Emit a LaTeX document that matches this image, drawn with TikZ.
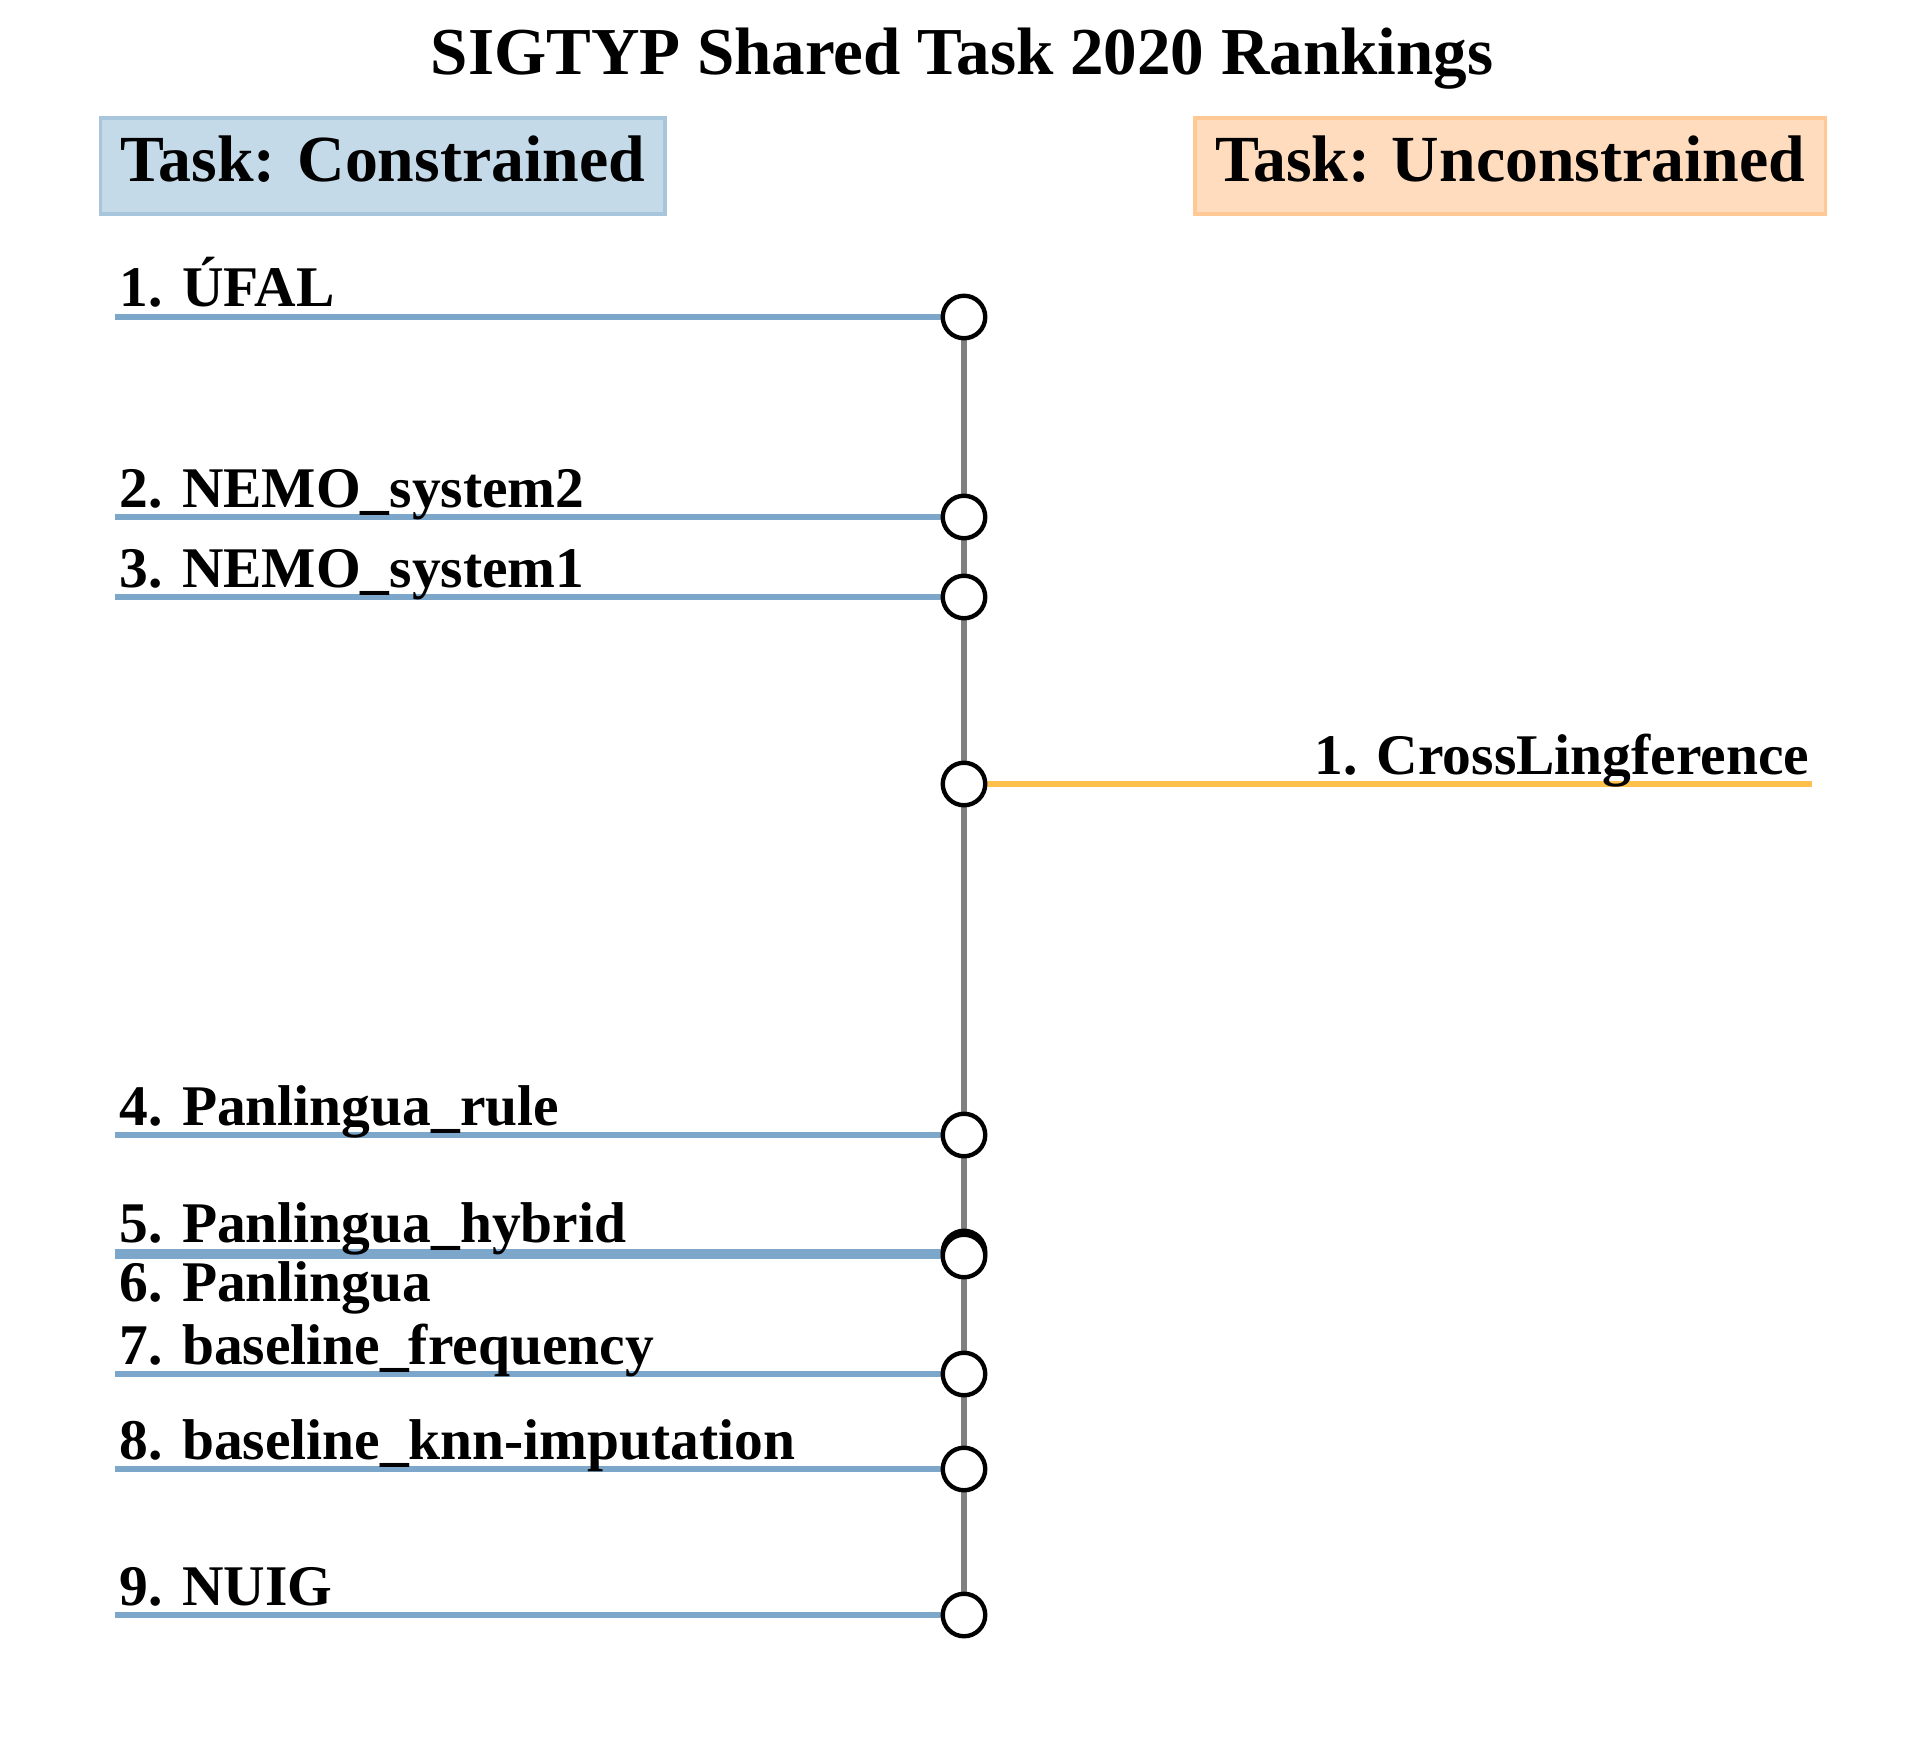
\documentclass[tikz,border=0pt]{standalone}
\usepackage{fontspec}
\setmainfont{Liberation Serif}
\usetikzlibrary{backgrounds}
\definecolor{rankblue}{RGB}{125,167,202}
\definecolor{rankorange}{RGB}{255,192,76}
\definecolor{conback}{RGB}{197,218,232}
\definecolor{conedge}{RGB}{167,198,220}
\definecolor{unback}{RGB}{255,220,189}
\definecolor{unedge}{RGB}{255,201,150}
\begin{document}
\begin{tikzpicture}[x=0.24pt,y=-0.24pt,
  rankdot/.style={draw, circle, fill=white, line width=1.05pt, minimum size=10.2pt, inner sep=0pt},
  rank/.style={font=\fontsize{13.8}{16}\selectfont\bfseries, inner sep=0pt},
  taskbox/.style={font=\fontsize{15.8}{19}\selectfont\bfseries, line width=0.8pt,
    minimum height=23pt, inner xsep=4.8pt, text height=11pt, text depth=3.5pt},
  conline/.style={rankblue, line width=1.5pt},
  unline/.style={rankorange, line width=1.5pt},
  spine/.style={gray, line width=1.5pt}]
  \useasboundingbox (0,0) rectangle (1926,1737);

  % Title and task boxes
  \node[anchor=base, font=\fontsize{16.1}{19}\selectfont\bfseries] (title) at (962,75) {SIGTYP Shared Task 2020 Rankings};
  \node[taskbox, anchor=west, fill=conback, draw=conedge] (con) at (99,166) {Task: Constrained};
  \node[taskbox, anchor=east, fill=unback, draw=unedge] (uncon) at (1827,166) {Task: Unconstrained};

  % Rank dots
  \node[rankdot] (m1) at (964,317) {};
  \node[rankdot] (m2) at (964,517) {};
  \node[rankdot] (m3) at (964,597) {};
  \node[rankdot] (u1) at (964,784) {};
  \node[rankdot] (m4) at (964,1135) {};
  \node[rankdot] (m5) at (964,1252) {};
  \node[rankdot] (m6) at (964,1256) {};
  \node[rankdot] (m7) at (964,1374) {};
  \node[rankdot] (m8) at (964,1469) {};
  \node[rankdot] (m9) at (964,1615) {};

  % Line ends
  \coordinate (e1) at (115,317);
  \coordinate (e2) at (115,517);
  \coordinate (e3) at (115,597);
  \coordinate (e4) at (115,1135);
  \coordinate (e5) at (115,1252);
  \coordinate (e6) at (115,1256);
  \coordinate (e7) at (115,1374);
  \coordinate (e8) at (115,1469);
  \coordinate (e9) at (115,1615);
  \coordinate (f1) at (1812,784);

  % Rank labels
  \node[rank, anchor=base west] (r1) at (119,307) {1. ÚFAL};
  \node[rank, anchor=base west] (r2) at (119,507) {2. NEMO\_system2};
  \node[rank, anchor=base west] (r3) at (119,587) {3. NEMO\_system1};
  \node[rank, anchor=base west] (r4) at (119,1125) {4. Panlingua\_rule};
  \node[rank, anchor=base west] (r5) at (119,1242) {5. Panlingua\_hybrid};
  \node[rank, anchor=base west] (r6) at (119,1301) {6. Panlingua};
  \node[rank, anchor=base west] (r7) at (119,1364) {7. baseline\_frequency};
  \node[rank, anchor=base west] (r8) at (119,1459) {8. baseline\_knn-imputation};
  \node[rank, anchor=base west] (r9) at (119,1605) {9. NUIG};
  \node[rank, anchor=base east] (x1) at (1810,774) {1. CrossLingference};

  % Connectors
  \begin{pgfonlayer}{background}
    \draw[spine] (m1.center) -- (m9.center);
    \draw[conline] (e1) -- (m1.center);
    \draw[conline] (e2) -- (m2.center);
    \draw[conline] (e3) -- (m3.center);
    \draw[conline] (e4) -- (m4.center);
    \draw[conline] (e5) -- (m5.center);
    \draw[conline] (e6) -- (m6.center);
    \draw[conline] (e7) -- (m7.center);
    \draw[conline] (e8) -- (m8.center);
    \draw[conline] (e9) -- (m9.center);
    \draw[unline] (u1.center) -- (f1);
  \end{pgfonlayer}
\end{tikzpicture}
\end{document}
